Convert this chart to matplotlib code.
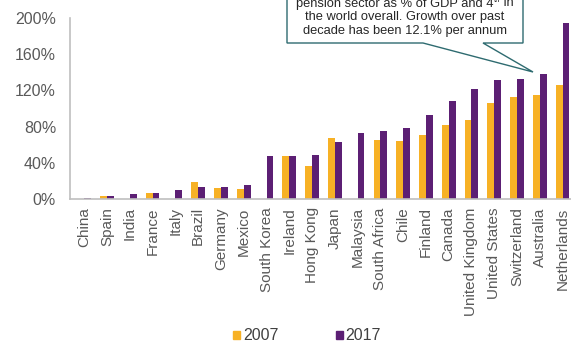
import matplotlib
matplotlib.use("Agg")
import matplotlib.pyplot as plt
import numpy as np
from matplotlib.patches import Polygon, Patch

plt.rcParams['font.family'] = ['Liberation Sans', 'DejaVu Sans']

countries = ["China", "Spain", "India", "France", "Italy", "Brazil", "Germany", "Mexico",
             "South Korea", "Ireland", "Hong Kong", "Japan", "Malaysia", "South Africa",
             "Chile", "Finland", "Canada", "United Kingdom", "United States",
             "Switzerland", "Australia", "Netherlands"]
v2007 = [0, 3.5, 0, 7, 0, 19, 12, 11, 0, 47.5, 36, 67, 0, 65, 64, 71, 82, 87, 106, 113, 115, 126]
v2017 = [1.5, 3.5, 5, 7, 10, 13, 13, 16, 48, 48, 49, 63, 73, 75, 78, 93, 108, 121, 131, 133, 138, 194]
yticks = [0, 40, 80, 120, 160, 200]
series = ["2007", "2017"]

c07 = "#F7B125"
c17 = "#5C1F74"

W, H = 571, 345
fig = plt.figure(figsize=(W / 100, H / 100), dpi=100)
ax = fig.add_axes([70 / W, 1 - 199 / H, (571 - 70) / W, (199 - 18) / H])

x = np.arange(len(countries))
bw = 0.3
ax.bar(x - bw / 2, v2007, width=bw, color=c07, label=series[0])
ax.bar(x + bw / 2, v2017, width=bw, color=c17, label=series[1])

ax.set_xlim(-0.63, len(countries) - 0.63)
ax.set_ylim(0, 200)
ax.set_yticks(yticks)
ax.set_yticklabels([f"{t}%" for t in yticks], fontsize=11.5, color="#595959")
ax.set_xticks(x)
ax.set_xticklabels(countries, rotation=90, fontsize=11, color="#595959")
ax.tick_params(length=0, pad=6)
ax.tick_params(axis='y', pad=10)
for s in ["top", "right"]:
    ax.spines[s].set_visible(False)
for s in ["left", "bottom"]:
    ax.spines[s].set_color("#BFBFBF")
    ax.spines[s].set_linewidth(1.2)

# legend
handles = [Patch(color=c07), Patch(color=c17)]
fig.legend(handles, series, loc="center", bbox_to_anchor=(307 / W, 1 - 336 / H), ncol=2,
           frameon=False, fontsize=11.5, handlelength=0.45, handleheight=0.45,
           handletextpad=0.15, columnspacing=3.6, labelcolor="#404040")

# callout box
def P(px, py):
    return (px / W, 1 - py / H)
verts = [P(287, -5), P(287, 43), P(423, 43), P(533, 72), P(483, 43), P(523, 43), P(523, -5)]
poly = Polygon(verts, closed=True, facecolor="white", edgecolor="#2E6B70", lw=1.0,
               transform=fig.transFigure, zorder=5)
fig.add_artist(poly)

fs = 9.3
tc = "#262626"
cx = 405
# first (partly clipped) line with superscript, composed from pieces
renderer = fig.canvas.get_renderer()
parts = [("pension sector as % of GDP and 4", fs, 0), ("th", fs * 0.6, 3.5), (" in", fs, 0)]
objs = []
for s, f, dy in parts:
    t = fig.text(0, 0, s, fontsize=f, color=tc, ha="left", va="center", zorder=6)
    objs.append((t, dy))
widths = [t.get_window_extent(renderer).width for t, _ in objs]
x0 = cx - sum(widths) / 2
y1 = 3.5
for (t, dy), w in zip(objs, widths):
    t.set_position((x0 / W, 1 - (y1 - dy) / H))
    x0 += w

lines = ["the world overall. Growth over past",
         "decade has been 12.1% per annum"]
for i, s in enumerate(lines):
    fig.text(cx / W, 1 - (y1 + 13.8 * (i + 1)) / H, s, ha="center", va="center",
             fontsize=fs, color=tc, zorder=6)

fig.savefig("out.png", dpi=100)
